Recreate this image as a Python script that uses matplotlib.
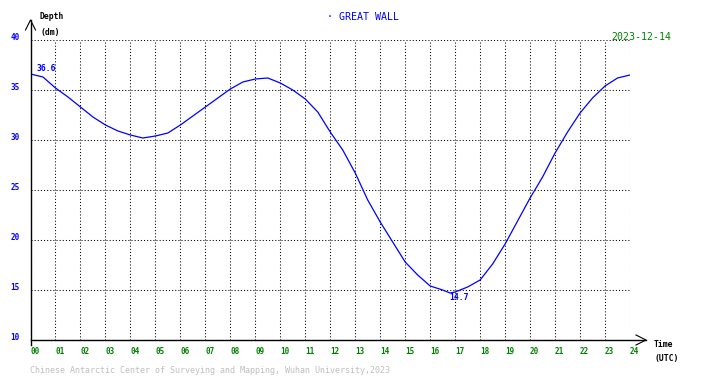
import matplotlib
matplotlib.use("Agg")
import matplotlib.pyplot as plt

# ---- data ----
hours = [0, 0.5, 1, 1.5, 2, 2.5, 3, 3.5, 4, 4.5, 5, 5.5, 6, 6.5, 7, 7.5, 8, 8.5,
         9, 9.5, 10, 10.5, 11, 11.5, 12, 12.5, 13, 13.5, 14, 14.5, 15, 15.5, 16,
         16.5, 16.8, 17, 17.5, 18, 18.5, 19, 19.5, 20, 20.5, 21, 21.5, 22, 22.5,
         23, 23.5, 24]
depth = [36.6, 36.3, 35.2, 34.3, 33.3, 32.3, 31.5, 30.9, 30.5, 30.2, 30.4, 30.7,
         31.5, 32.4, 33.3, 34.2, 35.1, 35.8, 36.1, 36.2, 35.7, 35.0, 34.1, 32.8,
         30.8, 29.0, 26.7, 24.0, 21.8, 19.8, 17.8, 16.5, 15.4, 15.0, 14.7, 14.8,
         15.3, 16.0, 17.6, 19.6, 21.9, 24.2, 26.3, 28.7, 30.8, 32.7, 34.2, 35.4,
         36.2, 36.5]
x_ticks = list(range(25))
x_labels = [f"{h:02d}" for h in x_ticks]
y_ticks = [10, 15, 20, 25, 30, 35, 40]
station = "GREAT WALL"
date_str = "2023-12-14"
footer = "Chinese Antarctic Center of Surveying and Mapping, Wuhan University,2023"

W, H = 710, 378
BLUE = (0, 0, 1)
GREEN = (0, 0.5, 0)
GRAY = (0.75, 0.75, 0.75)
MONO = "DejaVu Sans Mono"

fig = plt.figure(figsize=(W / 100, H / 100), dpi=100)
fig.patch.set_facecolor("white")

L, R, T, B = 30.5, 630.0, 40.0, 340.0
ax = fig.add_axes([L / W, 1 - B / H, (R - L) / W, (B - T) / H])
ax.set_xlim(0, 24)
ax.set_ylim(10, 40)
for s in ax.spines.values():
    s.set_visible(False)

ax.set_xticks(x_ticks)
ax.set_xticklabels(x_labels, ha="left", color=GREEN, family=MONO, fontsize=5.5,
                   fontweight="bold")
ax.set_yticks(y_ticks)
ax.set_yticklabels([str(v) for v in y_ticks], color=BLUE, family=MONO, fontsize=5.5,
                   fontweight="bold", va="baseline")
ax.tick_params(axis="x", length=0, pad=5.4)
ax.tick_params(axis="y", length=0, pad=8.0)
ax.grid(True, color="black", linestyle=(0, (1, 2)), linewidth=0.75)
ax.set_axisbelow(True)

# curve
ax.plot(hours, depth, color=BLUE, linewidth=0.9, solid_joinstyle="round")

# axes lines with arrows (axes-fraction coordinates from pixel offsets)
aw, ah = R - L, B - T
def fx(px):
    return px / aw
def fy(py):
    return py / ah
tr = ax.transAxes
ax.plot([0, 0], [fy(-5), 1 + fy(20)], color="black", lw=1.0, transform=tr, clip_on=False)
ax.plot([fx(-5), 0, fx(5)], [1 + fy(10), 1 + fy(20), 1 + fy(10)], color="black", lw=0.8,
        transform=tr, clip_on=False)
ax.plot([0, 1 + fx(16)], [0, 0], color="black", lw=1.0, transform=tr, clip_on=False)
ax.plot([1 + fx(6), 1 + fx(16), 1 + fx(6)], [fy(5), 0, fy(-5)], color="black", lw=0.8,
        transform=tr, clip_on=False)

# annotations of first value and minimum
imin = depth.index(min(depth))
ax.annotate(f"{depth[0]:.1f}", (hours[0], depth[0]), xytext=(4, 2.5), textcoords="offset points",
            color=BLUE, family=MONO, fontsize=5.8, fontweight="bold", va="baseline", ha="left")
ax.annotate(f"{depth[imin]:.1f}", (hours[imin], depth[imin]), xytext=(-1, -5), textcoords="offset points",
            color=BLUE, family=MONO, fontsize=5.8, fontweight="bold", va="baseline", ha="left")

def ftext(px, py, s, **kw):
    fig.text(px / W, 1 - py / H, s, family=MONO, va="baseline", ha="left", **kw)

ftext(327, 20.5, "\u00b7 " + station, color=BLUE, fontsize=7.2)
ftext(611.5, 40.5, date_str, color=GREEN, fontsize=7.1)
ftext(40, 18.7, "Depth", color="black", fontsize=5.8, fontweight="bold")
ftext(41, 35.5, "(dm)", color="black", fontsize=5.8, fontweight="bold")
ftext(654, 346.7, "Time", color="black", fontsize=5.8, fontweight="bold")
ftext(654, 361.5, "(UTC)", color="black", fontsize=5.8, fontweight="bold")
ftext(30, 372.7, footer, color=GRAY, fontsize=6.0)

fig.savefig("out.png", dpi=100, facecolor="white")
